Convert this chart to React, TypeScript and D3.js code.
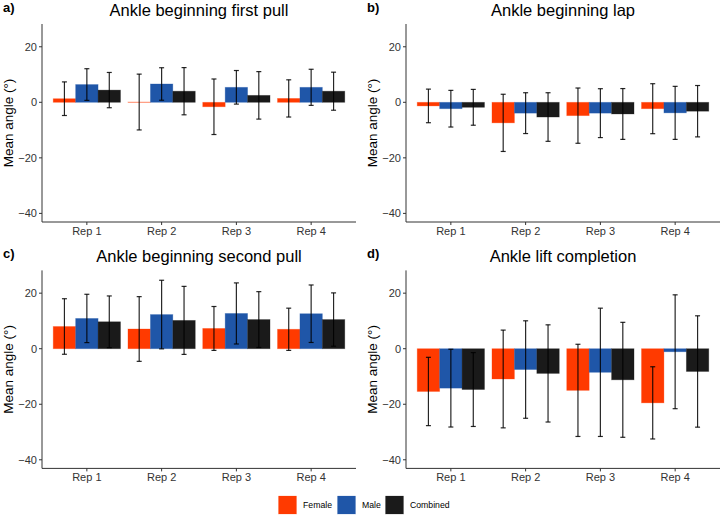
import React from 'react';
import * as d3 from 'd3';

const reps = ['Rep 1', 'Rep 2', 'Rep 3', 'Rep 4'];
const groups = ['Female', 'Male', 'Combined'];
const groupColors = ['#FF3A00', '#1F56A8', '#1A1A1A'];
const yTicks = [-40, -20, 0, 20];

const panelLetters = ['a)', 'b)', 'c)', 'd)'];
const panelTitles = [
  'Ankle beginning first pull',
  'Ankle beginning lap',
  'Ankle beginning second pull',
  'Ankle lift completion',
];

// mean angle per rep, one array per group, per panel
const femaleMeans = [
  [1.3, 0.1, -1.6, 1.4],
  [-1.3, -7.4, -4.8, -2.3],
  [8.0, 7.1, 7.3, 7.0],
  [-15.4, -10.9, -15.0, -19.5],
];
const maleMeans = [
  [6.4, 6.6, 5.4, 5.4],
  [-2.3, -3.9, -3.9, -3.8],
  [10.9, 12.3, 12.7, 12.6],
  [-14.2, -7.5, -8.5, -1.1],
];
const combinedMeans = [
  [4.4, 4.0, 2.5, 4.0],
  [-1.8, -5.3, -4.2, -3.2],
  [9.7, 10.2, 10.5, 10.5],
  [-14.7, -8.9, -11.2, -8.2],
];

// standard deviations (error bar half-lengths)
const femaleSd = [
  [6.05, 10.05, 10.0, 6.7],
  [6.05, 10.3, 9.95, 9.0],
  [10.0, 11.65, 7.9, 7.6],
  [12.3, 17.6, 16.6, 13.0],
];
const maleSd = [
  [5.7, 5.85, 6.05, 6.5],
  [6.6, 7.35, 8.8, 9.55],
  [8.7, 12.35, 11.0, 10.35],
  [14.0, 17.55, 23.1, 20.5],
];
const combinedSd = [
  [6.35, 8.5, 8.55, 6.85],
  [6.45, 8.75, 9.15, 9.25],
  [9.3, 12.25, 10.05, 9.6],
  [13.3, 17.5, 20.7, 20.05],
];

const means = [femaleMeans, maleMeans, combinedMeans];
const sds = [femaleSd, maleSd, combinedSd];

const font = '"Liberation Sans", Arial, Helvetica, sans-serif';

interface PanelProps {
  idx: number;
  ox: number;
  oy: number;
}

const Panel: React.FC<PanelProps> = ({ idx, ox, oy }) => {
  const left = ox + 42;
  const right = ox + 356;
  const top = oy + 24;
  const bottom = oy + 222;

  const x = d3.scaleBand<string>().domain(reps).range([left, right])
    .paddingInner(0.1).paddingOuter(0.15);
  const xg = d3.scaleBand<string>().domain(groups).range([0, x.bandwidth()]);
  const y = d3.scaleLinear().domain([-43.1, 28.2]).range([bottom, top]);

  return (
    <g>
      <text x={ox + 3} y={oy + 12} fontSize={13} fontWeight="bold" fontFamily={font}>
        {panelLetters[idx]}
      </text>
      <text x={(left + right) / 2} y={oy + 15.7} fontSize={16.5} textAnchor="middle"
        fontFamily={font} fill="#000">
        {panelTitles[idx]}
      </text>
      <text transform={`translate(${ox + 12.5},${(top + bottom) / 2}) rotate(-90)`}
        fontSize={13.5} textAnchor="middle" fontFamily={font} fill="#000">
        Mean angle (°)
      </text>

      {reps.map((r, ri) =>
        groups.map((g, gi) => {
          const m = means[gi][idx][ri];
          const s = sds[gi][idx][ri];
          const bx = (x(r) ?? 0) + (xg(g) ?? 0);
          const bw = xg.bandwidth();
          const y0 = y(0);
          const y1 = y(m);
          const cx = bx + bw / 2;
          return (
            <g key={`${r}-${g}`}>
              <rect x={bx} y={Math.min(y0, y1)} width={bw}
                height={Math.max(Math.abs(y1 - y0), 0.3)}
                fill={groupColors[gi]} stroke={groupColors[gi]} strokeOpacity={0.35}
                strokeWidth={0.8} />
              <g stroke="#000" strokeOpacity={0.85} strokeWidth={1.2}>
                <line x1={cx} x2={cx} y1={y(m + s)} y2={y(m - s)} />
                <line x1={cx - 2.5} x2={cx + 2.5} y1={y(m + s)} y2={y(m + s)} />
                <line x1={cx - 2.5} x2={cx + 2.5} y1={y(m - s)} y2={y(m - s)} />
              </g>
            </g>
          );
        })
      )}

      {/* axes */}
      <line x1={left} x2={left} y1={top} y2={bottom} stroke="#333" strokeWidth={1} />
      <line x1={left} x2={right} y1={bottom} y2={bottom} stroke="#333" strokeWidth={1} />
      {yTicks.map(t => (
        <g key={t}>
          <line x1={left - 3} x2={left} y1={y(t)} y2={y(t)} stroke="#333" />
          <text x={left - 5} y={y(t)} dy="0.35em" textAnchor="end" fontSize={11}
            fontFamily={font} fill="#333">
            {t < 0 ? `\u2212${Math.abs(t)}` : t}
          </text>
        </g>
      ))}
      {reps.map(r => {
        const cx = (x(r) ?? 0) + x.bandwidth() / 2;
        return (
          <g key={r}>
            <line x1={cx} x2={cx} y1={bottom} y2={bottom + 3} stroke="#333" />
            <text x={cx} y={bottom + 12.8} textAnchor="middle" fontSize={11}
              fontFamily={font} fill="#333">
              {r}
            </text>
          </g>
        );
      })}
    </g>
  );
};

const legendX = [278, 337, 385];

export default function App() {
  return (
    <svg width={720} height={520} style={{ position: 'absolute', left: 0, top: 0, background: '#fff' }}>
      <rect width={720} height={520} fill="#fff" />
      <Panel idx={0} ox={0} oy={0} />
      <Panel idx={1} ox={364} oy={0} />
      <Panel idx={2} ox={0} oy={246.4} />
      <Panel idx={3} ox={364} oy={246.4} />
      {groups.map((g, i) => (
        <g key={g}>
          <rect x={legendX[i]} y={495.5} width={19} height={19} fill={groupColors[i]}
            stroke="#fff" strokeWidth={0.8} />
          <text x={legendX[i] + 25} y={508} fontSize={8.7} fontFamily={font} fill="#000">
            {g}
          </text>
        </g>
      ))}
    </svg>
  );
}
